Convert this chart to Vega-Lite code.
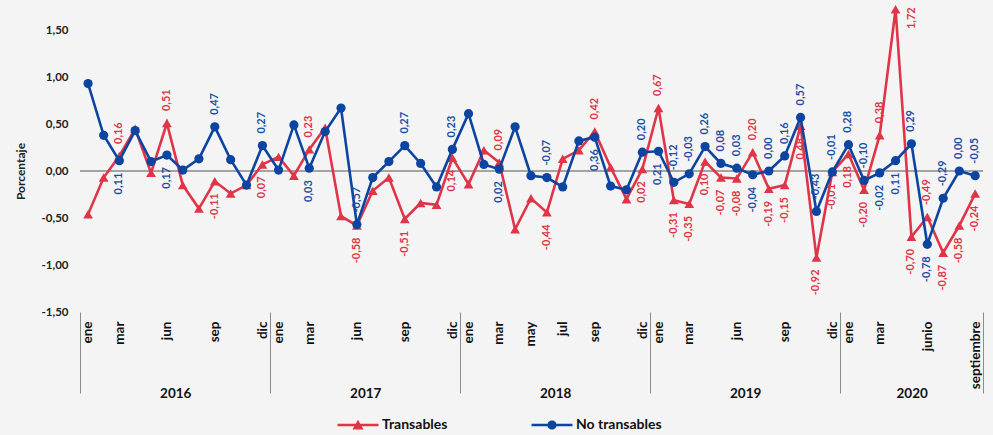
{
  "$schema": "https://vega.github.io/schema/vega-lite/v6.json",
  "width": 903,
  "height": 282,
  "autosize": {"type": "none"},
  "padding": {"left": 80, "top": 30, "right": 10, "bottom": 123},
  "background": "#F4F4F4",
  "config": {
    "locale": {"number": {"decimal": ",", "thousands": ".", "grouping": [3], "currency": ["", " €"], "minus": "-"}},
    "view": {"stroke": null},
    "font": "Lato"
  },
  "data": {"values": [
    {"mes": "2016-01", "Transables": -0.46, "No transables": 0.93},
    {"mes": "2016-02", "Transables": -0.07, "No transables": 0.38},
    {"mes": "2016-03", "Transables": 0.16, "No transables": 0.11},
    {"mes": "2016-04", "Transables": 0.45, "No transables": 0.43},
    {"mes": "2016-05", "Transables": -0.02, "No transables": 0.10},
    {"mes": "2016-06", "Transables": 0.51, "No transables": 0.17},
    {"mes": "2016-07", "Transables": -0.15, "No transables": 0.01},
    {"mes": "2016-08", "Transables": -0.40, "No transables": 0.13},
    {"mes": "2016-09", "Transables": -0.11, "No transables": 0.47},
    {"mes": "2016-10", "Transables": -0.24, "No transables": 0.12},
    {"mes": "2016-11", "Transables": -0.15, "No transables": -0.15},
    {"mes": "2016-12", "Transables": 0.07, "No transables": 0.27},
    {"mes": "2017-01", "Transables": 0.15, "No transables": 0.01},
    {"mes": "2017-02", "Transables": -0.05, "No transables": 0.49},
    {"mes": "2017-03", "Transables": 0.23, "No transables": 0.03},
    {"mes": "2017-04", "Transables": 0.46, "No transables": 0.42},
    {"mes": "2017-05", "Transables": -0.48, "No transables": 0.67},
    {"mes": "2017-06", "Transables": -0.58, "No transables": -0.57},
    {"mes": "2017-07", "Transables": -0.21, "No transables": -0.07},
    {"mes": "2017-08", "Transables": -0.07, "No transables": 0.10},
    {"mes": "2017-09", "Transables": -0.51, "No transables": 0.27},
    {"mes": "2017-10", "Transables": -0.34, "No transables": 0.08},
    {"mes": "2017-11", "Transables": -0.36, "No transables": -0.17},
    {"mes": "2017-12", "Transables": 0.14, "No transables": 0.23},
    {"mes": "2018-01", "Transables": -0.14, "No transables": 0.61},
    {"mes": "2018-02", "Transables": 0.22, "No transables": 0.07},
    {"mes": "2018-03", "Transables": 0.09, "No transables": 0.02},
    {"mes": "2018-04", "Transables": -0.62, "No transables": 0.47},
    {"mes": "2018-05", "Transables": -0.29, "No transables": -0.05},
    {"mes": "2018-06", "Transables": -0.44, "No transables": -0.07},
    {"mes": "2018-07", "Transables": 0.13, "No transables": -0.17},
    {"mes": "2018-08", "Transables": 0.22, "No transables": 0.32},
    {"mes": "2018-09", "Transables": 0.42, "No transables": 0.36},
    {"mes": "2018-10", "Transables": 0.04, "No transables": -0.16},
    {"mes": "2018-11", "Transables": -0.30, "No transables": -0.20},
    {"mes": "2018-12", "Transables": 0.02, "No transables": 0.20},
    {"mes": "2019-01", "Transables": 0.67, "No transables": 0.21},
    {"mes": "2019-02", "Transables": -0.31, "No transables": -0.12},
    {"mes": "2019-03", "Transables": -0.35, "No transables": -0.03},
    {"mes": "2019-04", "Transables": 0.10, "No transables": 0.26},
    {"mes": "2019-05", "Transables": -0.07, "No transables": 0.08},
    {"mes": "2019-06", "Transables": -0.08, "No transables": 0.03},
    {"mes": "2019-07", "Transables": 0.20, "No transables": -0.04},
    {"mes": "2019-08", "Transables": -0.19, "No transables": 0.00},
    {"mes": "2019-09", "Transables": -0.15, "No transables": 0.16},
    {"mes": "2019-10", "Transables": 0.48, "No transables": 0.57},
    {"mes": "2019-11", "Transables": -0.92, "No transables": -0.43},
    {"mes": "2019-12", "Transables": -0.01, "No transables": -0.01},
    {"mes": "2020-01", "Transables": 0.18, "No transables": 0.28},
    {"mes": "2020-02", "Transables": -0.20, "No transables": -0.10},
    {"mes": "2020-03", "Transables": 0.38, "No transables": -0.02},
    {"mes": "2020-04", "Transables": 1.72, "No transables": 0.11},
    {"mes": "2020-05", "Transables": -0.70, "No transables": 0.29},
    {"mes": "2020-06", "Transables": -0.49, "No transables": -0.78},
    {"mes": "2020-07", "Transables": -0.87, "No transables": -0.29},
    {"mes": "2020-08", "Transables": -0.58, "No transables": 0.00},
    {"mes": "2020-09", "Transables": -0.24, "No transables": -0.05}
  ]},
  "layer": [
    {
      "mark": {"type": "rule", "color": "#A3A3A3", "strokeWidth": 1.5},
      "encoding": {
        "y": {"datum": 0, "type": "quantitative",
          "scale": {"domain": [-1.5, 1.5], "nice": false, "zero": false},
          "axis": {"orient": "left", "title": "Porcentaje", "values": [-1.5, -1, -0.5, 0, 0.5, 1, 1.5], "format": ".2f",
            "grid": false, "ticks": false, "domain": false, "labelPadding": 12,
            "labelFontSize": 11.5, "labelFontWeight": "bold", "labelColor": "#222222",
            "titleFontSize": 12, "titleFontWeight": "bold", "titleColor": "#222222", "titlePadding": 14}
        }
      }
    },
    {
      "mark": {"type": "line", "color": "#E03448", "strokeWidth": 2.6},
      "encoding": {
        "x": {"field": "mes", "type": "temporal", "timeUnit": "utcyearmonth", "bandPosition": 0.5, "title": null,
          "scale": {"domain": [{"year": 2016, "month": 1, "date": 1, "utc": true}, {"year": 2020, "month": 10, "date": 1, "utc": true}], "nice": false},
          "axis": {
            "orient": "bottom",
            "values": [
              {"year": 2016, "month": 1, "date": 16, "utc": true}, {"year": 2016, "month": 3, "date": 16, "utc": true}, {"year": 2016, "month": 6, "date": 16, "utc": true}, {"year": 2016, "month": 9, "date": 16, "utc": true}, {"year": 2016, "month": 12, "date": 16, "utc": true},
              {"year": 2017, "month": 1, "date": 16, "utc": true}, {"year": 2017, "month": 3, "date": 16, "utc": true}, {"year": 2017, "month": 6, "date": 16, "utc": true}, {"year": 2017, "month": 9, "date": 16, "utc": true}, {"year": 2017, "month": 12, "date": 16, "utc": true},
              {"year": 2018, "month": 1, "date": 16, "utc": true}, {"year": 2018, "month": 3, "date": 16, "utc": true}, {"year": 2018, "month": 5, "date": 16, "utc": true}, {"year": 2018, "month": 7, "date": 16, "utc": true}, {"year": 2018, "month": 9, "date": 16, "utc": true}, {"year": 2018, "month": 12, "date": 16, "utc": true},
              {"year": 2019, "month": 1, "date": 16, "utc": true}, {"year": 2019, "month": 3, "date": 16, "utc": true}, {"year": 2019, "month": 6, "date": 16, "utc": true}, {"year": 2019, "month": 9, "date": 16, "utc": true}, {"year": 2019, "month": 12, "date": 16, "utc": true},
              {"year": 2020, "month": 1, "date": 16, "utc": true}, {"year": 2020, "month": 3, "date": 16, "utc": true}, {"year": 2020, "month": 6, "date": 16, "utc": true}, {"year": 2020, "month": 9, "date": 16, "utc": true}
            ],
            "labelExpr": "utcyear(datum.value) == 2020 && utcmonth(datum.value) == 5 ? 'junio' : (utcyear(datum.value) == 2020 && utcmonth(datum.value) == 8 ? 'septiembre' : ['ene','feb','mar','abr','may','jun','jul','ago','sep','oct','nov','dic'][utcmonth(datum.value)])",
            "labelAngle": 270, "labelAlign": "right", "labelBaseline": "middle",
            "labelFontSize": 13.5, "labelFontWeight": "bold", "labelColor": "#111111",
            "labelPadding": 9, "labelOverlap": false, "labelFlush": false, "labelBound": false,
            "ticks": false, "domain": false, "grid": false
          }
        },
        "y": {"field": "Transables", "type": "quantitative"}
      }
    },
    {
      "mark": {"type": "point", "shape": "triangle-up", "filled": true, "opacity": 1, "color": "#E03448", "size": 95},
      "encoding": {
        "x": {"field": "mes", "type": "temporal", "timeUnit": "utcyearmonth", "bandPosition": 0.5, "title": null,
          "axis": {
            "orient": "bottom",
            "values": [
              {"year": 2016, "month": 1, "date": 1, "utc": true}, {"year": 2017, "month": 1, "date": 1, "utc": true}, {"year": 2018, "month": 1, "date": 1, "utc": true}, {"year": 2019, "month": 1, "date": 1, "utc": true}, {"year": 2020, "month": 1, "date": 1, "utc": true}, {"year": 2020, "month": 10, "date": 1, "utc": true}
            ],
            "labels": false, "ticks": true, "tickSize": 81, "tickColor": "#8C8C8C", "tickWidth": 1,
            "domain": false, "grid": false
          }
        },
        "y": {"field": "Transables", "type": "quantitative"}
      }
    },
    {
      "mark": {"type": "line", "color": "#0C45A0", "strokeWidth": 2.6},
      "encoding": {
        "x": {"field": "mes", "type": "temporal", "timeUnit": "utcyearmonth", "bandPosition": 0.5, "title": null,
          "axis": {
            "orient": "bottom",
            "values": [
              {"year": 2016, "month": 7, "date": 2, "utc": true}, {"year": 2017, "month": 7, "date": 2, "utc": true}, {"year": 2018, "month": 7, "date": 2, "utc": true}, {"year": 2019, "month": 7, "date": 2, "utc": true}, {"year": 2020, "month": 5, "date": 17, "utc": true}
            ],
            "labelExpr": "'' + utcyear(datum.value)",
            "labelAngle": 0, "labelAlign": "center", "labelBaseline": "top",
            "labelFontSize": 13.5, "labelFontWeight": "bold", "labelColor": "#111111",
            "labelPadding": 74, "labelOverlap": false, "labelFlush": false,
            "ticks": false, "domain": false, "grid": false
          }
        },
        "y": {"field": "No transables", "type": "quantitative"}
      }
    },
    {
      "mark": {"type": "point", "shape": "circle", "filled": true, "opacity": 1, "color": "#0C45A0", "size": 85},
      "encoding": {
        "x": {"field": "mes", "type": "temporal", "timeUnit": "utcyearmonth", "bandPosition": 0.5, "axis": null},
        "y": {"field": "No transables", "type": "quantitative"}
      }
    },
    {
      "transform": [{"filter": "utcyear(datum.mes) >= 2019 || utcmonth(datum.mes) % 3 == 2"}],
      "mark": {"type": "text", "angle": 270, "baseline": "middle", "fontSize": 11, "fontWeight": "bold", "color": "#E03448",
        "align": {"expr": "datum['Transables'] > 1.5 ? 'right' : (datum['Transables'] > datum['No transables'] ? 'left' : 'right')"},
        "dx": {"expr": "datum['Transables'] > 1.5 ? 2 : (datum['Transables'] > datum['No transables'] ? 12 : -12)"},
        "dy": {"expr": "datum['Transables'] > 1.5 ? 16 : 0"}
      },
      "encoding": {
        "x": {"field": "mes", "type": "temporal", "timeUnit": "utcyearmonth", "bandPosition": 0.5, "axis": null},
        "y": {"field": "Transables", "type": "quantitative"},
        "text": {"field": "Transables", "type": "quantitative", "format": ".2f"}
      }
    },
    {
      "transform": [{"filter": "utcyear(datum.mes) >= 2019 || utcmonth(datum.mes) % 3 == 2"}],
      "mark": {"type": "text", "angle": 270, "baseline": "middle", "fontSize": 11, "fontWeight": "bold", "color": "#1A4FA3",
        "align": {"expr": "datum['No transables'] >= datum['Transables'] ? 'left' : 'right'"},
        "dx": {"expr": "datum['No transables'] >= datum['Transables'] ? 12 : -12"}
      },
      "encoding": {
        "x": {"field": "mes", "type": "temporal", "timeUnit": "utcyearmonth", "bandPosition": 0.5, "axis": null},
        "y": {"field": "No transables", "type": "quantitative"},
        "text": {"field": "No transables", "type": "quantitative", "format": ".2f"}
      }
    },
    {
      "transform": [{"filter": "false"}],
      "mark": {"type": "point", "filled": true, "opacity": 1},
      "encoding": {
        "color": {"field": "serie", "type": "nominal",
          "scale": {"domain": ["Transables", "No transables"], "range": ["#E03448", "#0C45A0"]},
          "legend": {"title": null, "orient": "none", "legendX": 268, "legendY": 385, "direction": "horizontal",
            "symbolSize": 400, "symbolStrokeWidth": 0, "symbolOpacity": 1,
            "labelFontSize": 14, "labelFontWeight": "bold", "labelColor": "#111111", "labelOffset": 14,
            "columnPadding": 83, "padding": 0}
        },
        "shape": {"field": "serie", "type": "nominal",
          "scale": {"domain": ["Transables", "No transables"], "range": [
            "M-2.05,-0.13H2.05V0.13H-2.05Z M0,-0.52L0.56,0.45L-0.56,0.45Z",
            "M-2.05,-0.13H2.05V0.13H-2.05Z M0.46,0A0.46,0.46,0,1,1,-0.46,0A0.46,0.46,0,1,1,0.46,0Z"
          ]}
        }
      }
    }
  ],
  "resolve": {"axis": {"x": "independent", "y": "shared"}}
}
